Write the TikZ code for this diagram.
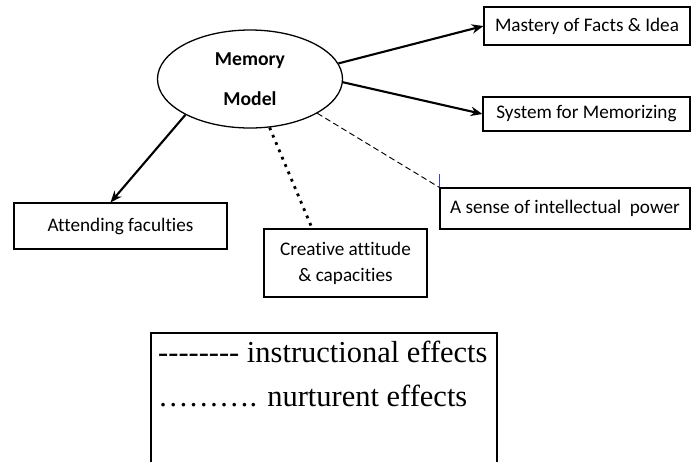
\documentclass[tikz,border=0pt]{standalone}
\usepackage{fontspec}
\setmainfont{Liberation Serif}
\newfontfamily\boxfont[Ligatures=NoCommon]{Carlito}
\usetikzlibrary{shapes.geometric,arrows.meta,positioning}

\begin{document}
\begin{tikzpicture}[x=0.03cm,y=-0.03cm,
    box/.style={draw,line width=0.9pt,font=\boxfont\fontsize{16.4}{19}\selectfont,inner sep=0pt,align=center},
    effect/.style={-{Stealth[length=10pt,width=8pt]},line width=1.8pt}]
  \useasboundingbox (0,0) rectangle (691,462);
  \node[ellipse,draw,line width=1.1pt,minimum width=5.55cm,minimum height=2.94cm,inner sep=0pt,
    align=center,font=\boxfont\bfseries\fontsize{16.8}{19}\selectfont] (mem) at (250,79) {Memory\\[0.55cm]Model};
  \node[box,minimum width=6.18cm,minimum height=1.14cm] (mastery) at (587,26) {Mastery of Facts \& Idea};
  \node[box,minimum width=6.21cm,minimum height=1.02cm] (system) at (586.5,114) {System for Memorizing};
  \node[box,minimum width=7.5cm,minimum height=1.23cm] (sense) at (565,208.5) {A sense of intellectual\ \ power};
  \node[box,minimum width=6.39cm,minimum height=1.38cm] (attend) at (120.5,226) {Attending faculties};
  \node[box,minimum width=4.89cm,minimum height=2.04cm] (creative) at (345.5,263) {Creative attitude\\[0.12cm]\& capacities};
  \draw[effect] (mem.10) -- (mastery.west);
  \draw[effect] (mem.-2) -- (system.west);
  \draw[effect] (mem.209) -- ([xshift=-0.3cm]attend.north);
  \draw[line width=2.4pt,dash pattern=on 2.4pt off 4.4pt] (mem.292) -- ([xshift=-1cm]creative.north);
  \draw[line width=0.8pt,dash pattern=on 5pt off 3pt] (mem.333) -- (sense.north west);
  \draw[blue!50!gray,line width=0.5pt] (sense.north west) -- ++(0,-13);
  % legend
  \draw[line width=2.2pt] (151,462) -- (151,333) -- (497,333) -- (497,462);
  \node[anchor=base west,inner sep=0pt,font=\fontsize{26}{30}\selectfont] (instr) at (158,362) {-{}-{}-{}-{}-{}-{}-{}- instructional effects};
  \node[anchor=base west,inner sep=0pt,font=\fontsize{26}{30}\selectfont] (nurt) at (158,406) {………. nurturent effects};
\end{tikzpicture}
\end{document}
